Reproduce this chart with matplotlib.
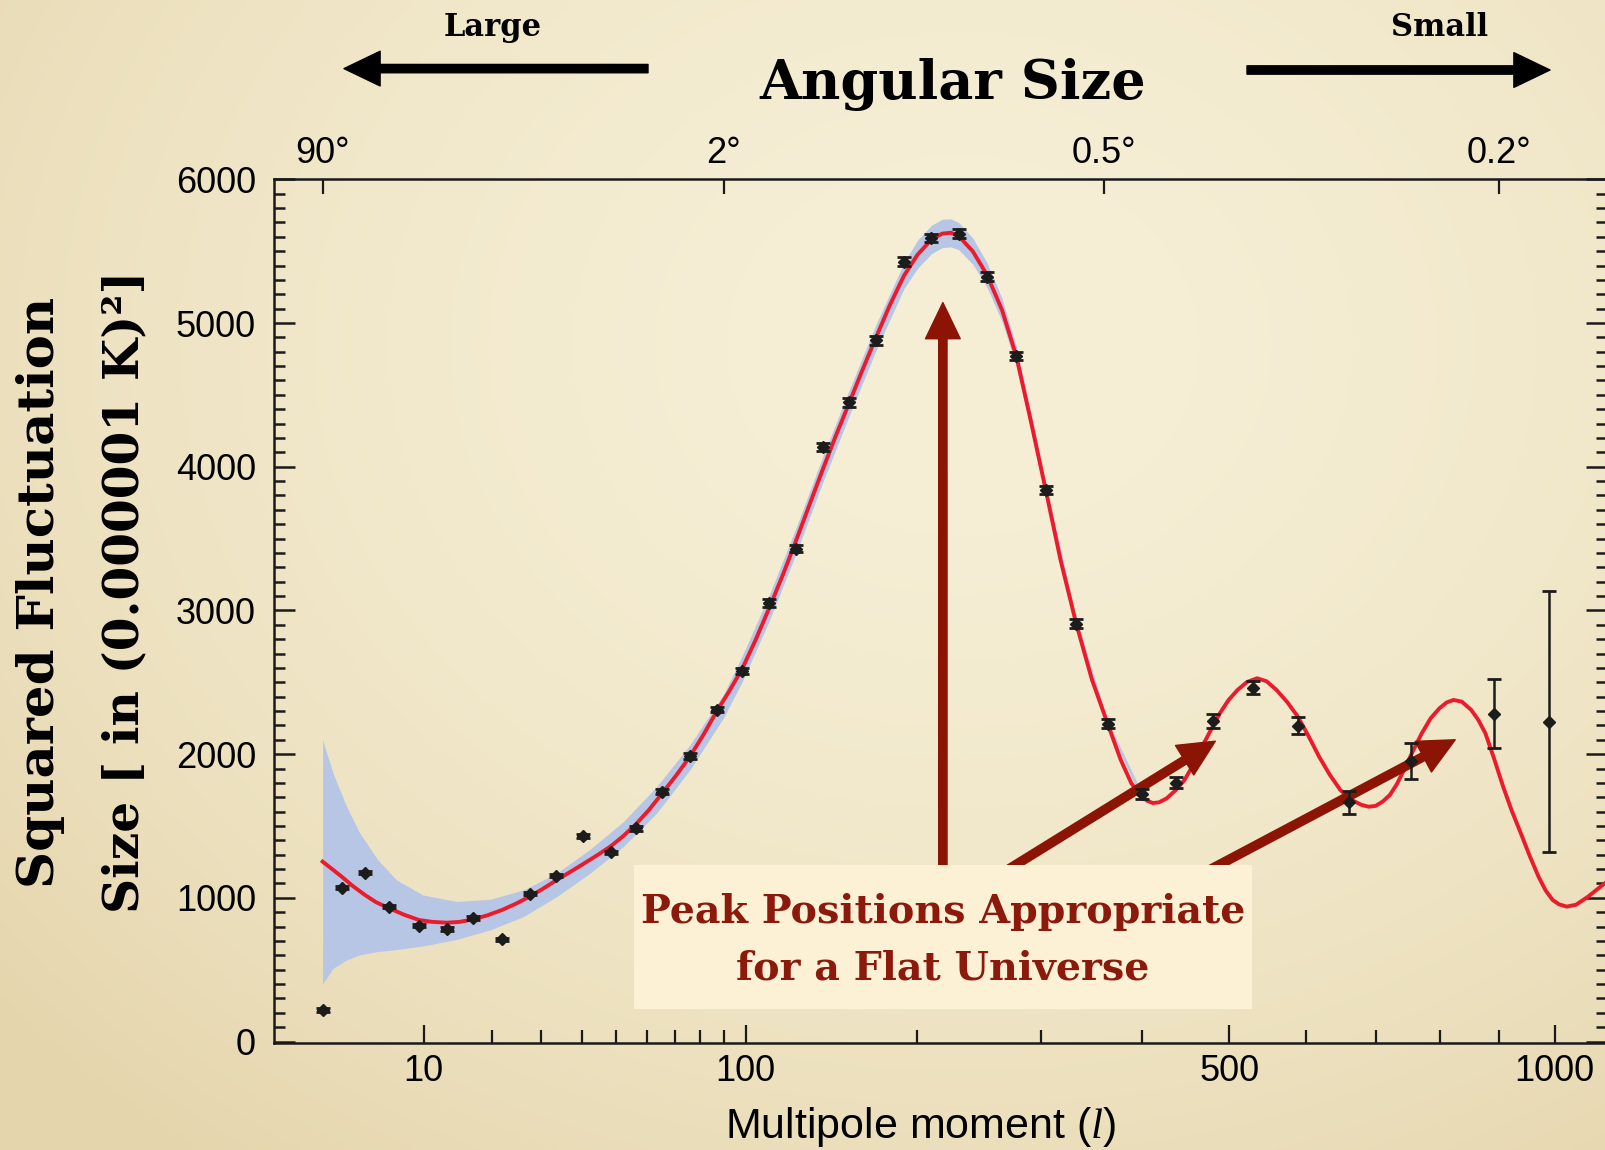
import numpy as np
import matplotlib.pyplot as plt
from matplotlib.patches import Rectangle

plt.rcParams['font.family'] = ['Liberation Sans', 'DejaVu Sans']
plt.rcParams['mathtext.fontset'] = 'custom'
plt.rcParams['mathtext.it'] = 'Liberation Serif:italic'

# измеренные точки спектра: мультиполь, мощность, ошибка
ell_data = [2.0, 2.96, 4.46, 6.41, 9.44, 12.9, 16.9, 21.9, 27.4, 33.4, 40.4, 48.4,
            56.4, 65.4, 75.9, 86.9, 98.2, 111.1, 125.0, 139.9, 155.4, 172.4, 191.1,
            210.5, 231.0, 253.5, 278.1, 304.2, 332.8, 363.8, 399.9, 436.8, 479.9,
            529.3, 588.3, 660.3, 753.8, 891.1, 989.0]
power_data = [220, 1071, 1175, 939, 807, 784, 860, 712, 1029, 1155, 1431, 1317,
              1484, 1739, 1987, 2308, 2579, 3052, 3429, 4137, 4447, 4880, 5427,
              5591, 5621, 5322, 4770, 3839, 2907, 2211, 1721, 1802, 2231,
              2463, 2198, 1665, 1953, 2280, 2226]
power_err = [12, 12, 12, 12, 12, 12, 12, 12, 12, 12, 12, 12,
             18, 18, 18, 18, 18, 25, 25, 30, 30, 30, 30,
             30, 30, 30, 30, 30, 30, 30, 33, 40, 47,
             47, 61, 81, 124, 240, 910]

# модельная кривая
ell_model = [2.0, 2.5, 2.96, 3.6, 4.46, 5.3, 6.41, 7.8, 9.44, 11.0, 12.9, 14.8,
             16.9, 19.2, 21.9, 24.5, 27.4, 30.3, 33.4, 36.8, 40.4, 44.3, 48.4,
             52.3, 56.4, 60.8, 65.4, 70.5, 75.9, 81.3, 86.9, 92.5, 98.2, 104.5,
             111.1, 118.0, 125.0, 132.3, 139.9, 147.5, 155.4, 163.8, 172.4, 181.5,
             191.1, 200.5, 210.5, 218.5, 225.0, 231.0, 242.0, 253.5, 266.0, 278.1,
             290.5, 304.2, 317.9, 332.8, 348.0, 363.8, 377.2, 388.3, 399.6, 405.0,
             411.2, 418.0, 426.8, 436.5, 446.8, 457.0, 467.3, 477.8, 488.5, 499.0,
             510.2, 522.0, 534.8, 547.0, 559.9, 574.0, 588.4, 603.0, 617.5, 632.5,
             647.5, 663.0, 678.3, 689.0, 699.4, 710.0, 720.9, 731.5, 742.7, 756.5,
             770.6, 785.0, 799.1, 811.0, 822.2, 836.0, 851.7, 863.5, 875.9, 891.0,
             906.7, 922.0, 938.0, 954.0, 970.0, 983.0, 996.1, 1008.0, 1022.4, 1040.0,
             1063.0, 1080.0, 1096.0]
power_model = [1252, 1195, 1148, 1085, 1020, 970, 928, 884, 846, 833, 827, 833,
               851, 878, 916, 958, 1008, 1062, 1120, 1177, 1235, 1296, 1360,
               1432, 1515, 1614, 1728, 1850, 1983, 2133, 2296, 2440, 2590, 2790,
               3010, 3240, 3480, 3730, 3980, 4215, 4440, 4675, 4900, 5125,
               5330, 5475, 5580, 5622, 5628, 5605, 5500, 5335, 5090, 4770,
               4330, 3839, 3351, 2907, 2520, 2211, 1960, 1797, 1704, 1676,
               1660, 1664, 1693, 1748, 1820, 1927, 2052, 2170, 2285, 2376,
               2447, 2502, 2528, 2507, 2447, 2363, 2261, 2125, 1983, 1857,
               1751, 1683, 1647, 1634, 1640, 1670, 1716, 1790, 1890, 2020,
               2145, 2250, 2319, 2360, 2377, 2365, 2308, 2240, 2145, 1968,
               1774, 1605, 1450, 1292, 1148, 1052, 985, 955, 939, 952,
               1008, 1057, 1102]

# полоса космической дисперсии
ell_band = [2.0, 2.5, 3.25, 4.1, 5.4, 7.1, 9.9, 14.3, 19.7, 26.1, 33.6, 42.3, 52.2,
            63.4, 75.9, 89.8, 98.2, 111.1, 125.0, 139.9, 155.4, 172.4, 191.1,
            200.5, 210.5, 218.5, 225.0, 231.0, 242.0, 253.5, 266.0, 278.1, 290.5,
            304.2, 332.8, 363.8, 400.0]
band_hi = [2099, 1867, 1635, 1450, 1270, 1125, 1020, 975, 990, 1055, 1171, 1338, 1530,
           1774, 2064, 2412, 2680, 3100, 3570, 4070, 4530, 4990, 5420,
           5575, 5680, 5722, 5725, 5700, 5592, 5420, 5170, 4840, 4395,
           3890, 2945, 2235, 1724]
band_lo = [401, 510, 568, 603, 626, 640, 665, 710, 777, 869, 1008, 1171, 1356,
           1589, 1890, 2250, 2500, 2920, 3390, 3890, 4350, 4810, 5240,
           5380, 5482, 5524, 5530, 5510, 5410, 5250, 5010, 4700, 4265,
           3790, 2870, 2187, 1684]

ell_ticks = [10, 100, 500, 1000]
ell_minor = [20, 30, 40, 50, 60, 70, 80, 90, 200, 300, 400, 600, 700, 800, 900]
angle_ell = [2, 90, 360, 900]
angle_labels = ['90°', '2°', '0.5°', '0.2°']


def fwd(l):
    return np.power(np.clip(l, 0, None), 0.4)


def inv(u):
    return np.power(np.clip(u, 0, None), 2.5)


W, H = 1605, 1150
fig = plt.figure(figsize=(W / 100, H / 100), dpi=100)

# фон "под пергамент"
bg = fig.add_axes([0, 0, 1, 1], zorder=-10)
yy, xx = np.mgrid[0:1:300j, 0:1:420j]
d = np.sqrt(((xx - 0.6) / 0.8) ** 2 + ((yy - 0.3) / 0.9) ** 2)
t = np.clip(d, 0, 1.1) ** 1.8
c0 = np.array([246, 239, 214]) / 255
c1 = np.array([229, 213, 172]) / 255
bg.imshow(c0 + (c1 - c0) * np.clip(t, 0, 1)[..., None], aspect='auto',
          extent=[0, 1, 0, 1], interpolation='bilinear')
bg.axis('off')

ax = fig.add_axes([274 / W, 1 - 1042.7 / H, 1333 / W, 863.4 / H])
ax.set_facecolor('none')
ax.set_xscale('function', functions=(fwd, inv))
ax.set_xlim(0.481, 1100)
ax.set_ylim(-8, 6000)

ax.fill_between(ell_band, band_lo, band_hi, color='#b8c6e6', lw=0, zorder=1)
ax.plot(ell_model, power_model, color='#ec1b2c', lw=2.8, zorder=2)
ax.errorbar(ell_data, power_data, yerr=power_err, fmt='D', ms=6, color='#1c1c1c',
            ecolor='#1c1c1c', elinewidth=1.8, capsize=5, capthick=2, zorder=4)

ink = '#1a1a1a'
for side in ['left', 'bottom', 'top', 'right']:
    ax.spines[side].set_linewidth(1.8)
    ax.spines[side].set_color(ink)

ax.set_xticks(ell_ticks)
ax.set_xticklabels([str(v) for v in ell_ticks])
ax.set_xticks(ell_minor, minor=True)
ax.set_yticks(range(0, 6001, 1000))
ax.set_yticks(range(0, 6001, 100), minor=True)
ax.tick_params(axis='x', which='major', direction='in', length=13, width=1.6,
               color=ink, labelsize=26, pad=8, top=False)
ax.tick_params(axis='x', which='minor', direction='in', length=9.5, width=1.6,
               color=ink, top=False)
ax.tick_params(axis='y', which='major', direction='in', length=15, width=1.8,
               color=ink, labelsize=26, pad=13, right=True)
ax.tick_params(axis='y', which='minor', direction='in', length=8, width=1.8,
               color=ink, right=True)
ax.set_xlabel('Multipole moment ($\\mathit{l}$)', fontsize=31)
ax.xaxis.set_label_coords(0.4854, -0.072)

# верхняя шкала углов
top = ax.twiny()
top.set_xscale('function', functions=(fwd, inv))
top.set_xlim(ax.get_xlim())
top.set_xticks(angle_ell)
top.set_xticklabels(angle_labels)
top.xaxis.set_minor_locator(plt.NullLocator())
top.tick_params(axis='x', direction='in', length=11, width=1.6, color=ink,
                labelsize=26, pad=6)
for side in ['left', 'bottom', 'top', 'right']:
    top.spines[side].set_visible(False)

serif = 'DejaVu Serif'
fig.text(41 / W, 1 - 592 / H, 'Squared Fluctuation', rotation=90, ha='center',
         va='center', family=serif, weight='bold', fontsize=37)
fig.text(125 / W, 1 - 592 / H, 'Size [ in (0.000001 K)²]', rotation=90, ha='center',
         va='center', family=serif, weight='bold', fontsize=35)

fig.text(953 / W, 1 - 99 / H, 'Angular Size', ha='center', va='baseline',
         family=serif, weight='bold', fontsize=39)
fig.text(493 / W, 1 - 36 / H, 'Large', ha='center', va='baseline',
         family=serif, weight='bold', fontsize=22)
fig.text(1440 / W, 1 - 36 / H, 'Small', ha='center', va='baseline',
         family=serif, weight='bold', fontsize=22)

black_arrow = dict(facecolor='black', edgecolor='black', width=6, headwidth=25,
                   headlength=26, shrink=0)
ax.annotate('', xy=(344 / W, 1 - 68.6 / H), xytext=(648 / W, 1 - 68.6 / H),
            xycoords='figure fraction', arrowprops=black_arrow, annotation_clip=False)
ax.annotate('', xy=(1550 / W, 1 - 70 / H), xytext=(1247 / W, 1 - 70 / H),
            xycoords='figure fraction', arrowprops=black_arrow, annotation_clip=False)

# стрелки на пики
red = '#8c1404'
red_arrow = dict(facecolor=red, edgecolor=red, width=6, headwidth=25,
                 headlength=26, shrink=0)
peak_tips = [(219, 5142), (483, 2090), (825, 2100)]
peak_tails = [(219, 900), (225, 950), (401, 950)]
for tip, tail in zip(peak_tips, peak_tails):
    ax.annotate('', xy=tip, xytext=tail, arrowprops=red_arrow, zorder=3)

ax.add_patch(Rectangle((634 / W, 1 - 1009 / H), 618 / W, 144 / H,
                       transform=fig.transFigure, facecolor='#fcf1d4',
                       edgecolor='none', zorder=6, clip_on=False))
ax.text(943 / W, 1 - 940 / H, 'Peak Positions Appropriate\nfor a Flat Universe',
        transform=fig.transFigure, ha='center', va='center', color='#8b1a0c',
        family=serif, weight='bold', fontsize=28.5, linespacing=1.62, zorder=7)

fig.savefig('out.png', dpi=100)
